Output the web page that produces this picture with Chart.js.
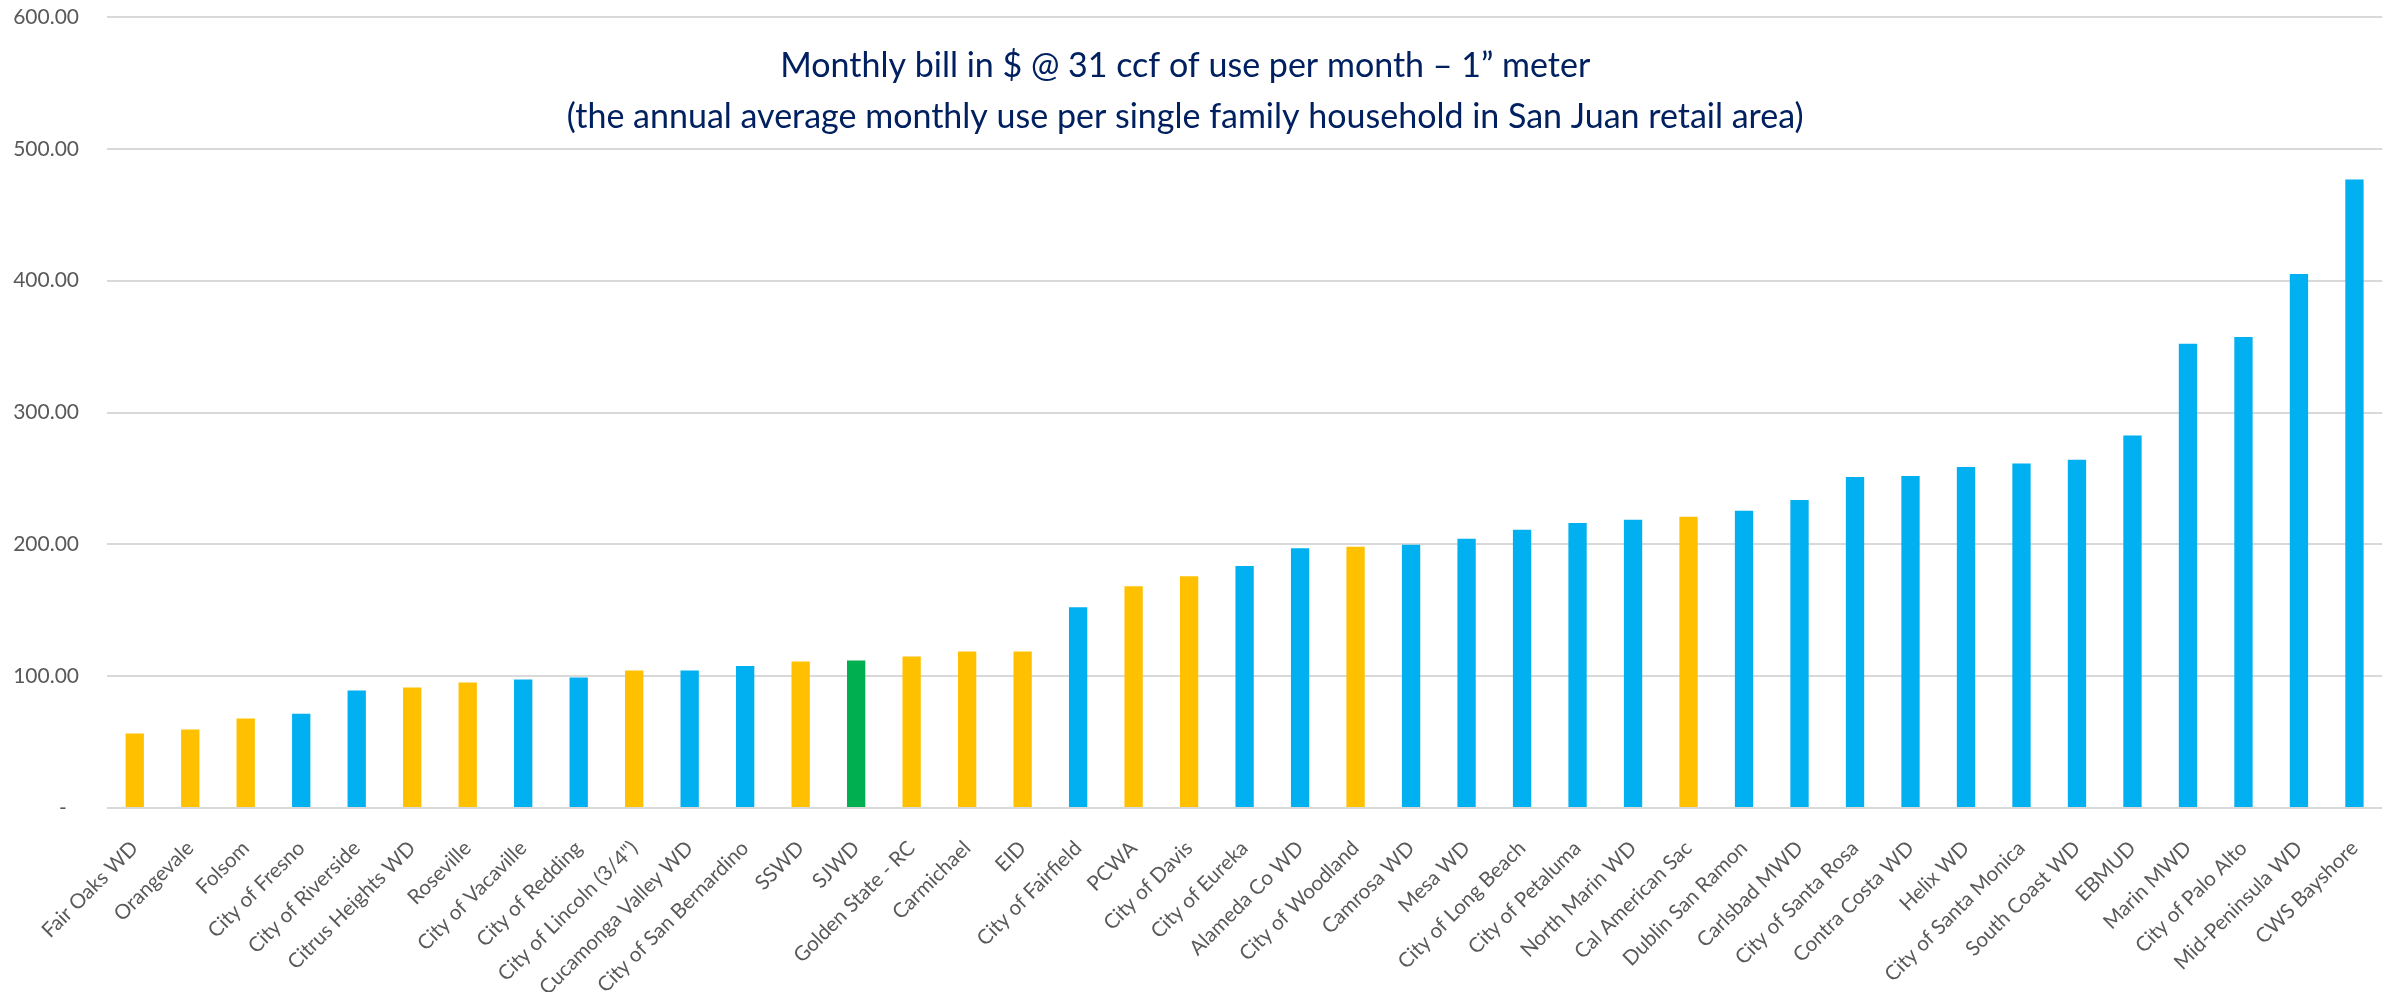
<!DOCTYPE html>
<html>
<head>
<meta charset="utf-8">
<script src="https://cdn.jsdelivr.net/npm/chart.js@4/dist/chart.umd.min.js"></script>
<style>
html,body{margin:0;padding:0;background:#ffffff;}
#wrap{width:2392px;height:992px;position:relative;}
</style>
</head>
<body>
<div id="wrap"><canvas id="c" width="2392" height="992"></canvas></div>
<script>
// ---- data ----
const categories = [
  "Fair Oaks WD","Orangevale","Folsom","City of Fresno","City of Riverside","Citrus Heights WD",
  "Roseville","City of Vacaville","City of Redding","City of Lincoln (3/4\")","Cucamonga Valley WD",
  "City of San Bernardino","SSWD","SJWD","Golden State - RC","Carmichael","EID","City of Fairfield",
  "PCWA","City of Davis","City of Eureka","Alameda Co WD","City of Woodland","Camrosa WD","Mesa WD",
  "City of Long Beach","City of Petaluma","North Marin WD","Cal American Sac","Dublin San Ramon",
  "Carlsbad MWD","City of Santa Rosa","Contra Costa WD","Helix WD","City of Santa Monica",
  "South Coast WD","EBMUD","Marin MWD","City of Palo Alto","Mid-Peninsula WD","CWS Bayshore"
];
const monthlyBill = [
  56.5, 59.5, 67.8, 71.4, 89.1, 91.4,
  95.2, 97.5, 99.0, 104.3, 104.3,
  107.8, 111.1, 111.9, 114.9, 118.7, 118.7, 152.3,
  168.2, 175.8, 183.6, 197.0, 198.2, 199.7, 204.3,
  211.1, 216.2, 218.7, 221.0, 225.5,
  233.7, 251.1, 251.9, 258.7, 261.3,
  264.1, 282.5, 352.2, 357.3, 405.0, 476.7
];
// region group of each agency: "sac" = Sacramento area, "sjwd" = San Juan WD, "other" = elsewhere
const agencyGroup = [
  "sac","sac","sac","other","other","sac",
  "sac","other","other","sac","other",
  "other","sac","sjwd","sac","sac","sac","other",
  "sac","sac","other","other","sac","other","other",
  "other","other","other","sac","other",
  "other","other","other","other","other",
  "other","other","other","other","other","other"
];
const yTickValues = [0, 100, 200, 300, 400, 500, 600];
const titleLines = [
  "Monthly bill in $ @ 31 ccf of use per month \u2013 1\u201D meter",
  "(the annual average monthly use per single family household in San Juan retail area)"
];

// ---- styles ----
const groupColors = { sac: "#FFC000", other: "#00B0F0", sjwd: "#00B050" };
const FONT = "Lato, 'Open Sans', sans-serif";

// size the category-label font so a reference label has the width it has in the original
const measureCtx = document.createElement("canvas").getContext("2d");
measureCtx.font = "100px " + FONT;
const refLabelWidth = measureCtx.measureText("City of San Bernardino").width;
const xLabelSize = Math.max(16, Math.min(30, Math.round(100 * 204 / refLabelWidth * 10) / 10));

const innerTitle = {
  id: "innerTitle",
  afterDraw(chart) {
    const ctx = chart.ctx;
    ctx.save();
    ctx.fillStyle = "#002060";
    ctx.font = "34px " + FONT;
    ctx.textAlign = "center";
    ctx.textBaseline = "middle";
    const cx = chart.width * 0.4955;
    ctx.fillText(titleLines[0], cx, 66);
    ctx.fillText(titleLines[1], cx, 117);
    ctx.restore();
  }
};

new Chart(document.getElementById("c"), {
  type: "bar",
  data: {
    labels: categories,
    datasets: [{
      data: monthlyBill,
      backgroundColor: agencyGroup.map(g => groupColors[g]),
      borderWidth: 0,
      barPercentage: 0.33,
      categoryPercentage: 1.0
    }]
  },
  options: {
    responsive: false,
    animation: false,
    devicePixelRatio: 1,
    layout: { padding: { top: 17, right: 6, left: 0, bottom: 0 } },
    plugins: { legend: { display: false }, tooltip: { enabled: false }, title: { display: false } },
    scales: {
      x: {
        grid: { display: false },
        border: { display: false },
        ticks: {
          autoSkip: false,
          maxRotation: 45,
          minRotation: 45,
          color: "#595959",
          padding: 20,
          font: { family: FONT, size: xLabelSize }
        },
        afterFit(scale) { scale.height = 184; }
      },
      y: {
        min: 0,
        max: 600,
        afterBuildTicks(scale) { scale.ticks = yTickValues.map(v => ({ value: v })); },
        ticks: {
          color: "#595959",
          padding: 4,
          font: { family: FONT, size: 21 },
          callback: v => v === 0 ? "-\u2007" : Number(v).toFixed(2)
        },
        grid: { color: "#D9D9D9", lineWidth: 2, drawTicks: true, tickLength: 24, tickColor: "rgba(0,0,0,0)" },
        border: { display: false },
        afterFit(scale) { scale.width = 107; }
      }
    }
  },
  plugins: [innerTitle]
});
</script>
</body>
</html>
